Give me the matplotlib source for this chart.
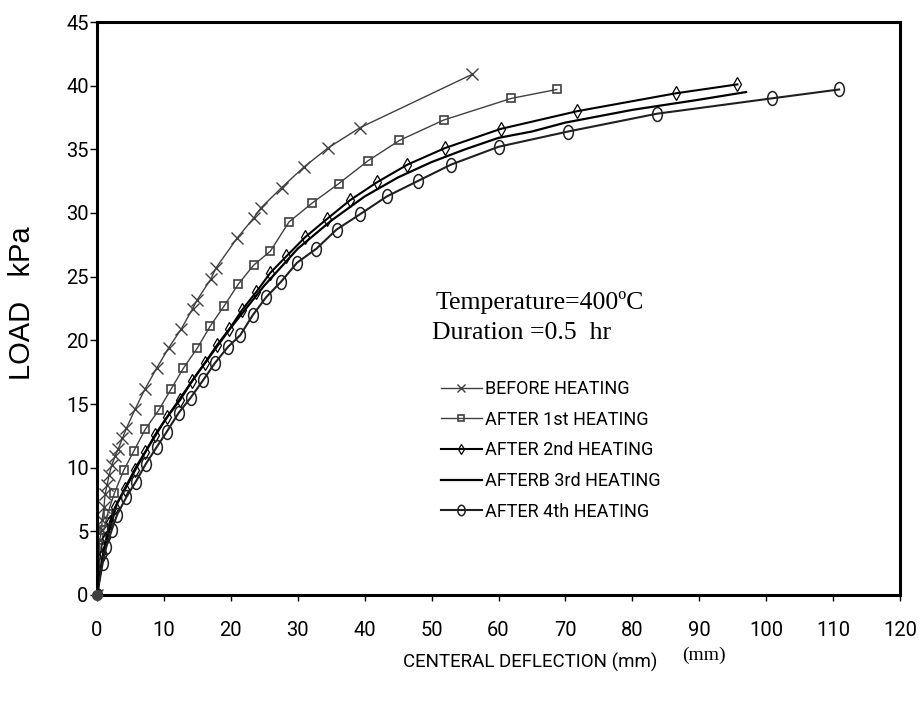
import numpy as np
import matplotlib
matplotlib.use("Agg")
import matplotlib.pyplot as plt
from matplotlib.path import Path

# Load-deflection curves
before_x = [0, 0.4, 0.7, 0.75, 1.05, 1.2, 1.5, 1.8, 2.2, 2.7, 3.2, 3.8, 4.4, 5.7, 7.2, 8.9,
            10.7, 12.6, 14.3, 15.0, 17.0, 17.8, 20.9, 23.4, 24.5, 27.6, 30.9, 34.5, 39.3, 56.1]
before_y = [0, 4.3, 5.1, 5.9, 6.9, 7.9, 8.6, 9.4, 10.2, 10.9, 11.5, 12.3, 13.1, 14.6, 16.2, 17.8,
            19.4, 20.9, 22.5, 23.2, 24.8, 25.7, 28.0, 29.6, 30.4, 32.0, 33.6, 35.1, 36.7, 40.9]

first_x = [0, 0.6, 1.0, 1.6, 2.6, 4.0, 5.5, 7.2, 9.2, 11.1, 12.9, 15.0, 16.9, 19.0, 21.1,
           23.4, 25.9, 28.7, 32.2, 36.1, 40.5, 45.2, 51.8, 61.9, 68.7]
first_y = [0, 3.7, 5.1, 6.4, 8.0, 9.8, 11.3, 13.0, 14.5, 16.2, 17.8, 19.4, 21.1, 22.7, 24.4,
           25.9, 27.0, 29.3, 30.8, 32.3, 34.1, 35.7, 37.3, 39.0, 39.7]

second_x = [0, 0.9, 1.4, 1.9, 2.7, 4.2, 5.7, 7.2, 8.7, 10.5, 12.4, 14.2, 16.1, 17.9, 19.8,
            21.7, 23.8, 25.9, 28.3, 31.1, 34.3, 37.8, 41.8, 46.4, 52.0, 60.3, 71.8, 86.5, 95.7]
second_y = [0, 3.2, 4.5, 5.7, 6.9, 8.3, 9.8, 11.2, 12.6, 14.0, 15.3, 16.8, 18.2, 19.6, 20.9,
            22.4, 23.8, 25.3, 26.6, 28.1, 29.5, 31.0, 32.4, 33.8, 35.1, 36.6, 38.0, 39.4, 40.1]

third_x = [0, 1, 3, 6, 10, 15, 20, 25, 30, 35, 40, 45, 50, 55, 60, 65, 70, 80, 90, 97]
third_y = [0, 3.5, 7.2, 10.2, 13.6, 17.4, 21.0, 24.3, 27.2, 29.4, 31.3, 32.8, 34.0, 35.0,
           35.9, 36.4, 37.1, 38.1, 38.9, 39.5]

fourth_x = [0, 0.85, 1.4, 2.2, 3.0, 4.4, 5.8, 7.3, 8.9, 10.4, 12.2, 14.0, 15.9, 17.6, 19.6,
            21.4, 23.3, 25.3, 27.5, 29.9, 32.8, 35.8, 39.3, 43.3, 47.9, 52.9, 60.0, 70.4,
            83.7, 100.8, 110.9]
fourth_y = [0, 2.5, 3.8, 5.1, 6.3, 7.7, 8.9, 10.3, 11.6, 12.8, 14.3, 15.5, 16.9, 18.2, 19.5,
            20.4, 22.0, 23.4, 24.6, 26.1, 27.2, 28.7, 29.9, 31.3, 32.5, 33.8, 35.2, 36.4,
            37.8, 39.0, 39.7]

labels = ["BEFORE HEATING", "AFTER 1st HEATING", "AFTER 2nd HEATING",
          "AFTERB 3rd HEATING", "AFTER 4th HEATING"]

x_ticks = np.arange(0, 121, 10)
y_ticks = np.arange(0, 46, 5)

narrow = ["Roboto", "DejaVu Sans"]   # no condensed Arial here, Roboto is the closest
serif = ["Liberation Serif", "DejaVu Serif"]

# tall ellipse marker for the 4th heating curve
circ = Path.unit_circle()
ellipse = Path(circ.vertices * np.array([0.7, 1.0]), circ.codes)

fig = plt.figure(figsize=(9.21, 7.09), dpi=100)
ax = fig.add_axes([97/921, 1 - 595/709, 803/921, 573/709])

gray = "#404040"
ax.plot(before_x, before_y, color=gray, lw=1.0, marker="x", ms=8, mew=1.0, label=labels[0])
ax.plot(first_x, first_y, color=gray, lw=1.0, marker="s", ms=6, mfc="none", mew=1.2, label=labels[1])
ax.plot(second_x, second_y, color="black", lw=1.5, marker="d", ms=7, mfc="none", mew=0.9, label=labels[2])
ax.plot(third_x, third_y, color="black", lw=1.6, label=labels[3])
ax.plot(fourth_x, fourth_y, color="#202020", lw=1.5, marker=ellipse, ms=10, mfc="none", mew=1.1,
        label=labels[4])
# overlapping points at the origin show up as a dark blob
ax.plot([0], [0], marker="o", ms=7, color="#404040", clip_on=False, zorder=5)

ax.set_xlim(0, 120)
ax.set_ylim(0, 45)
ax.set_xticks(x_ticks)
ax.set_yticks(y_ticks)
ax.tick_params(axis="x", direction="out", length=4, width=1, pad=15)
ax.tick_params(axis="y", direction="out", length=5, width=1, pad=1)
for lab in ax.get_xticklabels() + ax.get_yticklabels():
    lab.set_family(narrow)
    lab.set_fontsize(14.5)
for s in ax.spines.values():
    s.set_linewidth(2.2)

ax.text(0.421, 0.51, "Temperature=400\u00baC", transform=ax.transAxes, family=serif, fontsize=18.5, va="center")
ax.text(0.417, 0.457, "Duration =0.5  hr", transform=ax.transAxes, family=serif, fontsize=18.5, va="center")

leg = ax.legend(loc="upper left", bbox_to_anchor=(0.428, 0.375), frameon=False,
                prop={"family": narrow, "size": 13}, handlelength=2.3, handletextpad=0.15,
                labelspacing=0.7, markerscale=0.75, borderpad=0, borderaxespad=0)

fig.text(22/921, 1 - 303/709, "LOAD   kPa", rotation=90, ha="center", va="center",
         family=["Liberation Sans", "DejaVu Sans"], fontsize=21)
fig.text(403/921, 1 - 662/709, "CENTERAL DEFLECTION (mm)", ha="left", va="center",
         family=narrow, fontsize=13.5)
fig.text(682/921, 1 - 655/709, "(mm)", ha="left", va="center", family=serif, fontsize=14)

fig.savefig("out.png", dpi=100)
